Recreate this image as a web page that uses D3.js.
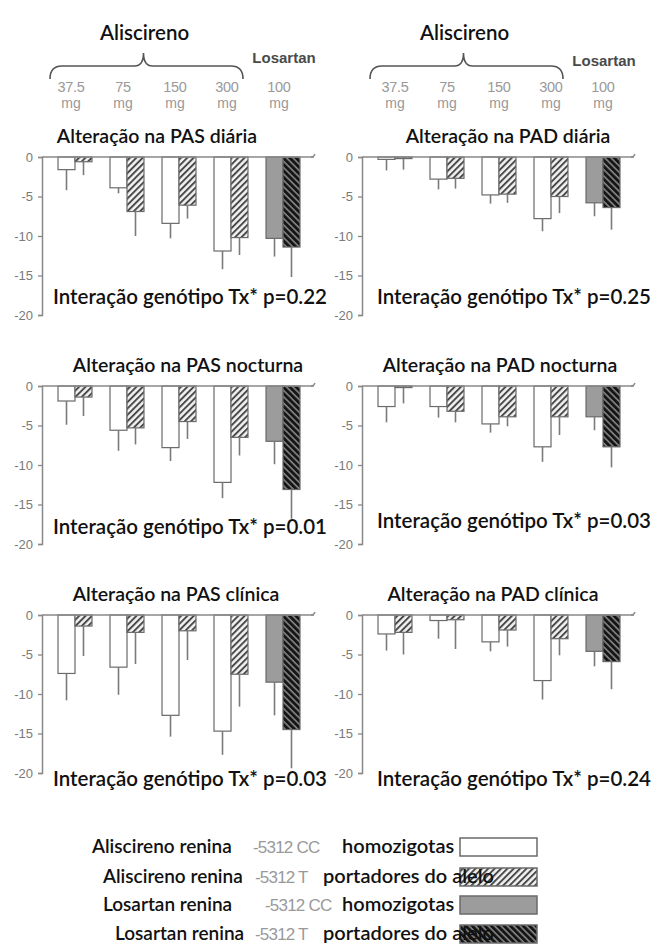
<html lang="en">
<head>
    <meta charset="UTF-8">
    <title>Aliscireno vs Losartan</title>
    <style>
        body { margin:0; background:#fff; }
        .lbl { font-family: Lato, 'Open Sans', sans-serif; font-weight:600; fill:#111; }
        .gry { font-family: 'Liberation Sans', Arial, sans-serif; fill:#999; }
    </style>
</head>
<body>
<div id="chart"></div>
<script src="https://d3js.org/d3.v7.min.js"></script>
<script>
    // dose groups (4 aliscireno + losartan)
    const doses = ["37.5", "75", "150", "300", "100"]
    const genotypes = ["CC", "T"]
    const yTicks = [0, -5, -10, -15, -20]

    // mean change (mmHg) and SE, CC homozygotes / T carriers
    const pasDiariaCC = [-1.6, -3.9, -8.4, -11.9, -10.3]
    const pasDiariaCCse = [2.6, 0.7, 1.9, 2.3, 2.3]
    const pasDiariaT = [-0.6, -6.9, -6.1, -10.2, -11.4]
    const pasDiariaTse = [1.7, 3.1, 1.7, 2.2, 3.8]

    const padDiariaCC = [-0.3, -2.8, -4.8, -7.8, -5.8]
    const padDiariaCCse = [1.4, 1.3, 1.1, 1.6, 1.7]
    const padDiariaT = [-0.2, -2.7, -4.7, -5.0, -6.4]
    const padDiariaTse = [1.4, 1.3, 1.1, 2.1, 2.8]

    const pasNoctCC = [-1.9, -5.6, -7.8, -12.2, -7.0]
    const pasNoctCCse = [3.0, 2.6, 1.7, 2.0, 2.9]
    const pasNoctT = [-1.4, -5.3, -4.5, -6.5, -13.1]
    const pasNoctTse = [2.4, 2.1, 2.2, 2.3, 3.7]

    const padNoctCC = [-2.6, -2.6, -4.8, -7.7, -3.9]
    const padNoctCCse = [2.0, 1.4, 1.1, 1.9, 1.7]
    const padNoctT = [-0.2, -3.2, -3.9, -3.9, -7.7]
    const padNoctTse = [2.0, 1.4, 1.2, 2.3, 2.6]

    const pasClinCC = [-7.4, -6.6, -12.7, -14.7, -8.5]
    const pasClinCCse = [3.4, 3.5, 2.7, 3.0, 4.2]
    const pasClinT = [-1.4, -2.2, -2.0, -7.5, -14.5]
    const pasClinTse = [3.8, 4.0, 3.7, 4.1, 4.9]

    const padClinCC = [-2.4, -0.7, -3.4, -8.3, -4.6]
    const padClinCCse = [2.1, 2.3, 1.2, 2.4, 1.9]
    const padClinT = [-2.2, -0.6, -1.9, -3.0, -5.9]
    const padClinTse = [2.8, 3.7, 2.1, 2.1, 3.5]

    const titles = ["Alteração na PAS diária", "Alteração na PAD diária",
                    "Alteração na PAS nocturna", "Alteração na PAD nocturna",
                    "Alteração na PAS clínica", "Alteração na PAD clínica"]
    const pValues = ["0.22", "0.25", "0.01", "0.03", "0.03", "0.24"]

    const legendDrug = ["Aliscireno renina", "Aliscireno renina", "Losartan renina", "Losartan renina"]
    const legendCode = ["-5312 CC", "-5312 T", "-5312 CC", "-5312 T"]
    const legendGeno = ["homozigotas", "portadores do alelo", "homozigotas", "portadores do alelo"]

    const panels = [
        [pasDiariaCC, pasDiariaCCse, pasDiariaT, pasDiariaTse],
        [padDiariaCC, padDiariaCCse, padDiariaT, padDiariaTse],
        [pasNoctCC, pasNoctCCse, pasNoctT, pasNoctTse],
        [padNoctCC, padNoctCCse, padNoctT, padNoctTse],
        [pasClinCC, pasClinCCse, pasClinT, pasClinTse],
        [padClinCC, padClinCCse, padClinT, padClinTse]
    ]

    var W = 657, H = 945
    var colX = [42, 362]
    var rowZero = [157, 386, 615]
    var titleCx = [157, 508, 188, 500, 176, 493]
    var annoY = [304, 304, 534, 528, 786, 786]
    var axisLen = 272, plotH = 158

    var svg = d3.select("#chart").append("svg")
                .attr("width", W).attr("height", H)

    var defs = svg.append("defs")
    function hatch(id, bg, fg, angle, sw) {
        var p = defs.append("pattern").attr("id", id)
            .attr("patternUnits", "userSpaceOnUse")
            .attr("width", 4.5).attr("height", 4.5)
            .attr("patternTransform", "rotate(" + angle + ")")
        p.append("rect").attr("width", 4.5).attr("height", 4.5).attr("fill", bg)
        p.append("line").attr("x1", 1).attr("x2", 1).attr("y1", 0).attr("y2", 4.5)
            .attr("stroke", fg).attr("stroke-width", sw)
    }
    hatch("hatchLight", "#f2f2f2", "#444", 45, 1.9)
    hatch("hatchDark", "#151515", "#a0a0a0", -45, 1.3)

    function fillFor(g, k) {
        if (g < 4) return k == 0 ? "#fff" : "url(#hatchLight)"
        return k == 0 ? "#9c9c9c" : "url(#hatchDark)"
    }

    var sub = d3.scaleBand().domain(genotypes).range([0, 52]).paddingOuter(0.53)

    panels.forEach(function(pd, i) {
        var col = i % 2, row = Math.floor(i / 2)
        var ax = colX[col], y0 = rowZero[row]

        var x = d3.scaleBand().domain(doses).range([ax + 7, ax + 267])
        var y = d3.scaleLinear().domain([0, -20]).range([y0, y0 + plotH])

        var g = svg.append("g")

        // y axis
        var yAxis = g.append("g")
            .attr("transform", "translate(" + ax + ",0)")
            .call(d3.axisLeft(y).tickValues(yTicks).tickSize(4).tickPadding(5))
        yAxis.select(".domain").attr("stroke", "#888").attr("stroke-width", 1.5)
        yAxis.selectAll(".tick line").attr("stroke", "#888").attr("stroke-width", 1.3)
        yAxis.selectAll(".tick text")
            .attr("font-family", "'Liberation Sans', Arial, sans-serif")
            .attr("font-size", 13).attr("fill", "#7a7a7a")
            .text(function(d) { return d == 0 ? "0" : "-" + Math.abs(d) })

        // bars
        doses.forEach(function(d, gi) {
            genotypes.forEach(function(k, ki) {
                var m = pd[ki * 2][gi], se = pd[ki * 2 + 1][gi]
                var bx = x(d) + sub(k)
                g.append("rect")
                    .attr("x", bx).attr("y", y(0))
                    .attr("width", sub.bandwidth())
                    .attr("height", y(m) - y(0))
                    .attr("fill", fillFor(gi, ki))
                    .attr("stroke", "#6a6a6a").attr("stroke-width", 1.2)
                g.append("line")
                    .attr("x1", bx + sub.bandwidth() / 2).attr("x2", bx + sub.bandwidth() / 2)
                    .attr("y1", y(m)).attr("y2", y(m - se))
                    .attr("stroke", "#7a7a7a").attr("stroke-width", 1.6)
            })
        })

        // zero line
        g.append("line")
            .attr("x1", ax).attr("x2", ax + axisLen)
            .attr("y1", y(0)).attr("y2", y(0))
            .attr("stroke", "#888").attr("stroke-width", 1.5)
        g.append("path")
            .attr("d", "M" + (ax + axisLen - 3) + "," + y(0) + " q3,0 4,-3")
            .attr("fill", "none").attr("stroke", "#888").attr("stroke-width", 1.3)

        g.append("text").attr("class", "lbl")
            .attr("x", titleCx[i]).attr("y", y0 - 14)
            .attr("text-anchor", "middle").attr("font-size", 19.5)
            .text(titles[i])

        g.append("text").attr("class", "lbl")
            .attr("x", ax + 11 + col * 4).attr("y", annoY[i])
            .attr("font-size", 20.5)
            .text("Interação genótipo Tx* p=" + pValues[i])

        // header with doses
        if (row == 0) {
            var h = svg.append("g")
            doses.forEach(function(d, gi) {
                var cx = x(d) + x.bandwidth() / 2 - (col == 0 ? 4 : 0)
                h.append("text").attr("class", "gry")
                    .attr("x", cx).attr("y", 92).attr("text-anchor", "middle")
                    .attr("font-size", 14.5).attr("letter-spacing", -0.3).text(d)
                h.append("text").attr("class", "gry")
                    .attr("x", cx).attr("y", 108).attr("text-anchor", "middle")
                    .attr("font-size", 14).text("mg")
            })
            var bx0 = x(doses[0]) + x.bandwidth() / 2 - 25
            var bx1 = x(doses[3]) + x.bandwidth() / 2 + 12
            var bm = (bx0 + bx1) / 2 - 3
            h.append("path")
                .attr("d", "M" + bx0 + ",79 Q" + bx0 + ",66 " + (bx0 + 12) + ",66 L" + (bm - 9) + ",66 Q" + bm + ",66 " + bm + ",53"
                    + " Q" + bm + ",66 " + (bm + 9) + ",66 L" + (bx1 - 12) + ",66 Q" + bx1 + ",66 " + bx1 + ",79")
                .attr("fill", "none").attr("stroke", "#555").attr("stroke-width", 1.6)
            h.append("text").attr("class", "lbl")
                .attr("x", bm + 1).attr("y", 40).attr("text-anchor", "middle")
                .attr("font-size", 20.5).text("Aliscireno")
            h.append("text")
                .attr("x", x(doses[4]) + x.bandwidth() / 2 + 1).attr("y", 63 + col * 3)
                .attr("text-anchor", "middle")
                .attr("font-family", "'Liberation Sans', Arial, sans-serif")
                .attr("font-weight", "bold").attr("font-size", 15).attr("fill", "#4a4a4a")
                .text("Losartan")
        }
    })

    // legend
    var legY = [838, 868, 896, 925]
    var drugX = [92, 103, 103, 115]
    var codeX = [253, 255, 265, 255]
    var genoX = [342, 323, 342, 323]
    var legFill = ["#fff", "url(#hatchLight)", "#9c9c9c", "url(#hatchDark)"]
    var leg = svg.append("g")
    legendDrug.forEach(function(d, i) {
        leg.append("rect")
            .attr("x", 460).attr("y", legY[i]).attr("width", 77).attr("height", 18)
            .attr("fill", legFill[i]).attr("stroke", "#6a6a6a").attr("stroke-width", 1.5)
    })
    legendDrug.forEach(function(d, i) {
        var by = legY[i] + 15
        leg.append("text").attr("class", "lbl").attr("x", drugX[i]).attr("y", by)
            .attr("font-size", 19).text(d)
        leg.append("text").attr("class", "gry").attr("x", codeX[i]).attr("y", by)
            .attr("font-size", 17).attr("letter-spacing", -0.8).attr("fill", "#aaa").text(legendCode[i])
        leg.append("text").attr("class", "lbl").attr("x", genoX[i]).attr("y", by)
            .attr("font-size", 20).text(legendGeno[i])
    })
</script>
</body>
</html>
